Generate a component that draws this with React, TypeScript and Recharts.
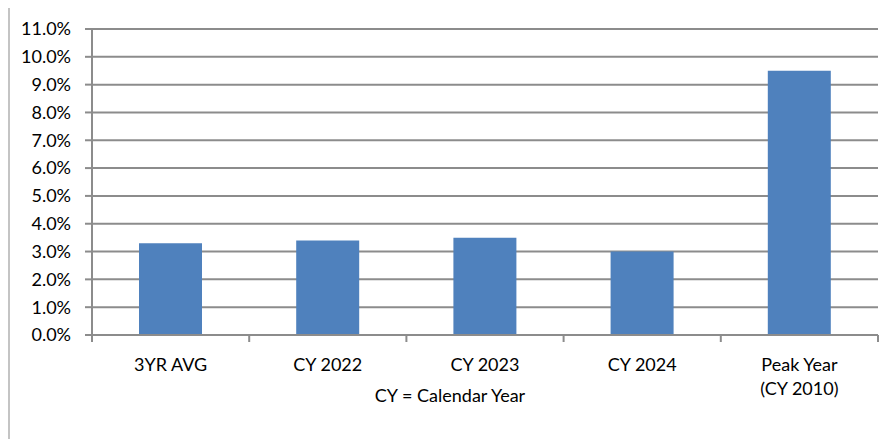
import { BarChart, Bar, XAxis, YAxis, CartesianGrid } from 'recharts';

const categories = ['3YR AVG', 'CY 2022', 'CY 2023', 'CY 2024', 'Peak Year\n(CY 2010)'];
const rates = [3.3, 3.4, 3.5, 3.0, 9.5];
const yTicks = [0, 1, 2, 3, 4, 5, 6, 7, 8, 9, 10, 11];
const footnote = 'CY = Calendar Year';

const data = categories.map((name, i) => ({ name, rate: rates[i] }));

const GRID = '#8c8c8c';
const FONT = 'Lato, "Open Sans", sans-serif';

const CategoryTick = (props: any) => {
  const { x, y, payload, index } = props;
  const half = payload.offset || 0;
  const lines = String(payload.value).split('\n');
  return (
    <g>
      <line x1={x - half} x2={x - half} y1={y} y2={y + 7} stroke={GRID} strokeWidth={2} />
      {index === categories.length - 1 && (
        <line x1={x + half} x2={x + half} y1={y} y2={y + 7} stroke={GRID} strokeWidth={2} />
      )}
      {lines.map((l, i) => (
        <text key={i} x={x} y={y + 36 + i * 24} textAnchor="middle" fill="#000" fontSize={18} fontFamily={FONT}>
          {l}
        </text>
      ))}
    </g>
  );
};

export default function App() {
  return (
    <div style={{ position: 'relative', width: 888, height: 434, marginTop: -3, overflow: 'hidden', fontFamily: FONT }}>
      <div
        style={{
          position: 'absolute',
          left: 0,
          top: 0,
          width: 2000,
          height: 2000,
          borderTop: '2px solid #c4c4c4',
          borderLeft: '2px solid #c4c4c4',
        }}
      />
      <div style={{ position: 'absolute', left: 0, top: 0 }}>
        <BarChart width={888} height={434} data={data} margin={{ top: 24, right: 18, bottom: 0, left: 0 }}>
          <CartesianGrid horizontal vertical={false} stroke={GRID} strokeWidth={2} />
          <XAxis
            dataKey="name"
            height={104}
            interval={0}
            tickSize={0}
            tickMargin={0}
            tickLine={false}
            axisLine={{ stroke: GRID, strokeWidth: 2 }}
            tick={<CategoryTick />}
          />
          <YAxis
            width={84}
            domain={[0, 11]}
            ticks={yTicks}
            interval={0}
            tickSize={7}
            tickMargin={14}
            axisLine={{ stroke: GRID, strokeWidth: 2 }}
            tickLine={{ stroke: GRID, strokeWidth: 2 }}
            tick={{ fill: '#000', fontSize: 18, fontFamily: FONT }}
            tickFormatter={(v: number) => `${v.toFixed(1)}%`}
          />
          <Bar dataKey="rate" fill="#4f81bd" barSize={63} isAnimationActive={false} />
        </BarChart>
      </div>
      <div
        style={{
          position: 'absolute',
          left: 292,
          width: 300,
          top: 380,
          textAlign: 'center',
          fontSize: 18,
          lineHeight: '20px',
          color: '#000',
        }}
      >
        {footnote}
      </div>
    </div>
  );
}
